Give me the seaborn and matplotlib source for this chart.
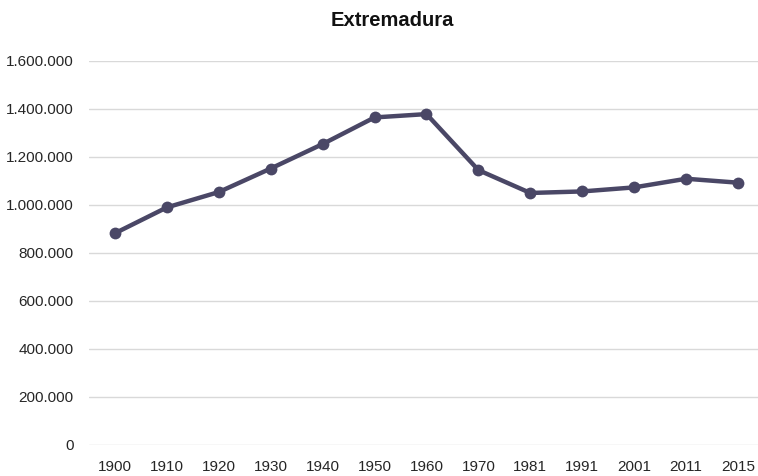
import matplotlib
matplotlib.use("Agg")
import matplotlib.pyplot as plt
import matplotlib.ticker as mticker
import seaborn as sns
import pandas as pd

years = ["1900", "1910", "1920", "1930", "1940", "1950", "1960",
         "1970", "1981", "1991", "2001", "2011", "2015"]
population = [882410, 990000, 1054000, 1152000, 1253924, 1364857, 1378777,
              1145376, 1050119, 1056538, 1073381, 1109367, 1092997]
title = "Extremadura"

df = pd.DataFrame({"year": years, "pop": population})

sns.set_theme(style="white")
plt.rcParams["font.family"] = ["Liberation Sans", "DejaVu Sans"]

fig = plt.figure(figsize=(7.58, 4.76), dpi=100)
ax = fig.add_axes([89 / 758, 31 / 476, 669 / 758, 384 / 476])

color = "#4a4766"
sns.lineplot(data=df, x="year", y="pop", ax=ax, color=color, linewidth=3.2,
             marker="o", markersize=8.5, markeredgewidth=0, sort=False)

ax.set_ylim(0, 1600000)
ax.set_xlim(-0.5, 12.385)
ax.yaxis.set_major_locator(mticker.MultipleLocator(200000))
ax.yaxis.set_major_formatter(mticker.FuncFormatter(lambda v, p: f"{int(v):,}".replace(",", ".")))
ax.grid(axis="y", color="#d9d9d9", linewidth=1)
ax.set_axisbelow(True)
for s in ax.spines.values():
    s.set_visible(False)
ax.set_xlabel("")
ax.set_ylabel("")
ax.tick_params(axis="both", length=0, labelsize=11, labelcolor="#262626")
ax.tick_params(axis="y", pad=11)
ax.tick_params(axis="x", pad=11)
fig.text(392 / 758, 1 - 21 / 476, title, ha="center", va="center",
         fontsize=14.5, fontweight="bold", color="#111111")

fig.savefig("out.png", dpi=100)
